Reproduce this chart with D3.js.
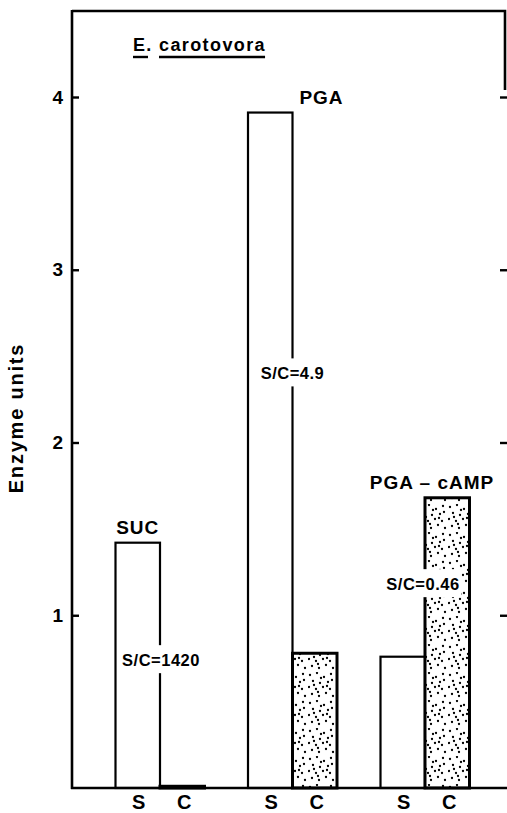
<!DOCTYPE html>
<html>
<head>
<meta charset="utf-8">
<script src="https://cdn.jsdelivr.net/npm/d3@7"></script>
<style>
  html, body { margin: 0; padding: 0; background: #fff; }
  svg { display: block; }
  text { font-family: "Liberation Sans", Arial, sans-serif; font-weight: bold; fill: #000; }
</style>
</head>
<body>
<svg id="chart" width="507" height="813"></svg>
<script>
// ---- data ----
const groups = ["SUC", "PGA", "PGA-cAMP"];
const groupLabels = ["SUC", "PGA", "PGA \u2013 cAMP"];
const conditions = ["S", "C"];
const valuesS = [1.42, 3.91, 0.76];
const valuesC = [0.01, 0.78, 1.68];
const ratioLabels = ["S/C=1420", "S/C=4.9", "S/C=0.46"];
const ratioValues = [0.74, 2.40, 1.18];   // vertical placement of ratio text, in enzyme units
const yTicks = [1, 2, 3, 4];
const yTitle = "Enzyme units";
const title = ["E.", "carotovora"];

const W = 507, H = 813;
const svg = d3.select("#chart");

// pattern for stippled bars
const defs = svg.append("defs");
const pat = defs.append("pattern").attr("id", "stip").attr("patternUnits", "userSpaceOnUse")
  .attr("width", 28).attr("height", 28);
pat.append("rect").attr("width", 28).attr("height", 28).attr("fill", "#fff");
const dots = [[2,3],[9,1],[16,5],[23,2],[5,9],[12,11],[20,10],[1,15],[8,17],[15,15],[22,17],[4,22],[11,24],[18,21],[25,24],[13,6],[6,13],[19,14],[24,8],[10,20]];
pat.selectAll("circle").data(dots).join("circle")
  .attr("cx", d => d[0]).attr("cy", d => d[1]).attr("r", 1.15).attr("fill", "#000");

// scales
const y = d3.scaleLinear().domain([0, 4]).range([788, 97]);
const xg = d3.scaleBand().domain(groups).range([115.5, 469.5]).paddingInner(0.3283).paddingOuter(0);
const xs = d3.scaleBand().domain(conditions).range([0, xg.bandwidth()]).padding(0);

const bars = [];
groups.forEach((g, i) => {
  bars.push({ g, c: "S", v: valuesS[i] });
  bars.push({ g, c: "C", v: valuesC[i] });
});

// bars
svg.append("g").selectAll("rect").data(bars).join("rect")
  .attr("x", d => xg(d.g) + xs(d.c))
  .attr("y", d => y(d.v))
  .attr("width", xs.bandwidth())
  .attr("height", d => Math.max(1, y(0) - y(d.v)))
  .attr("fill", d => d.c === "S" ? "#fff" : "url(#stip)")
  .attr("stroke", "#000")
  .attr("stroke-width", d => d.c === "S" ? 2.2 : 3);

// frame
const frame = svg.append("g").attr("stroke", "#000").attr("fill", "none").attr("stroke-width", 2.6);
frame.append("path").attr("d", `M72,11 L505,11 L505,90`);
frame.append("line").attr("x1", 72).attr("x2", 72).attr("y1", 10).attr("y2", y(0) + 1);
frame.append("line").attr("x1", 71).attr("x2", W).attr("y1", y(0)).attr("y2", y(0));

// left axis
const ax = svg.append("g").attr("transform", "translate(72,0)")
  .call(d3.axisLeft(y).tickValues(yTicks).tickFormat(d3.format("d"))
    .tickSizeInner(-7).tickSizeOuter(0).tickPadding(9));
ax.select(".domain").remove();
ax.selectAll(".tick line").attr("stroke", "#000").attr("stroke-width", 2.4);
ax.selectAll(".tick text").style("font-size", "19px")
  .style("font-family", "'Liberation Sans', Arial, sans-serif").style("font-weight", "bold");

// right axis ticks
const axr = svg.append("g").attr("transform", "translate(507,0)")
  .call(d3.axisRight(y).tickValues(yTicks).tickFormat("").tickSizeInner(-7).tickSizeOuter(0));
axr.select(".domain").remove();
axr.selectAll(".tick line").attr("stroke", "#000").attr("stroke-width", 2.4);

// y title
svg.append("text")
  .attr("transform", `translate(23,418) rotate(-90)`)
  .attr("text-anchor", "middle")
  .style("font-size", "20px").style("letter-spacing", "1.8px")
  .text(yTitle);

// S / C labels below bars
svg.append("g").selectAll("text").data(bars).join("text")
  .attr("x", d => xg(d.g) + xs(d.c) + xs.bandwidth() / 2 + (d.c === "S" ? 1 : 2))
  .attr("y", 809)
  .attr("text-anchor", "middle")
  .style("font-size", "20px")
  .text(d => d.c);

// group labels
const glabelX = [
  xg(groups[0]) + xs("S") + xs.bandwidth() / 2,
  xg(groups[1]) + xg.bandwidth() / 2 + 29,
  xg(groups[2]) + xg.bandwidth() / 2 + 7
];
const glabelY = [valuesS[0], valuesS[1], valuesC[2]];
svg.append("g").selectAll("text").data(groupLabels).join("text")
  .attr("x", (d, i) => glabelX[i])
  .attr("y", (d, i) => y(glabelY[i]) - 9)
  .attr("text-anchor", "middle")
  .style("font-size", "19px").style("letter-spacing", "1px")
  .text(d => d);

// ratio labels with white backgrounds
const ratioX = [
  xg(groups[0]) + xg.bandwidth() / 2 + 1,
  xg(groups[1]) + xg.bandwidth() / 2 + 0,
  xg(groups[2]) + xg.bandwidth() / 2 - 2
];
const rg = svg.append("g");
ratioLabels.forEach((lab, i) => {
  const t = rg.append("text")
    .attr("x", ratioX[i]).attr("y", y(ratioValues[i]) + 6)
    .attr("text-anchor", "middle")
    .style("font-size", "16.5px").style("letter-spacing", "0.5px")
    .text(lab);
  const bb = t.node().getBBox();
  rg.insert("rect", "text")
    .attr("x", bb.x - 2).attr("y", bb.y - 6).attr("width", bb.width + 4).attr("height", bb.height + 10)
    .attr("fill", "#fff");
});

// title with underlines
const tg = svg.append("g");
const t1 = tg.append("text").attr("x", 133).attr("y", 51).style("font-size", "18px").style("letter-spacing", "1.2px").text(title[0]);
const t2 = tg.append("text").attr("x", 159).attr("y", 51).style("font-size", "18px").style("letter-spacing", "1.4px").text(title[1]);
const b2 = t2.node().getBBox();
tg.append("line").attr("x1", 133).attr("x2", 148).attr("y1", 57).attr("y2", 57).attr("stroke", "#000").attr("stroke-width", 2.4);
tg.append("line").attr("x1", 159).attr("x2", b2.x + b2.width - 1).attr("y1", 57).attr("y2", 57).attr("stroke", "#000").attr("stroke-width", 2.4);
</script>
</body>
</html>
